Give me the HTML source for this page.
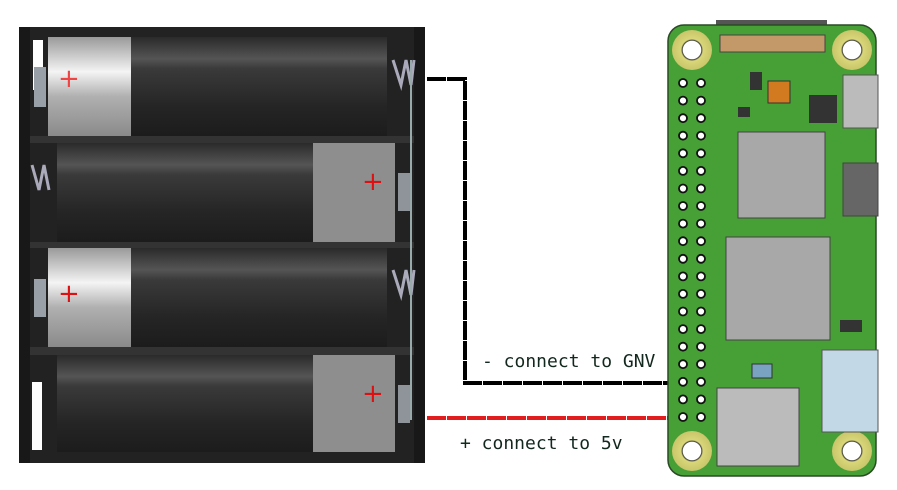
<!DOCTYPE html>
<html><head><style>
html,body{margin:0;padding:0;background:#fff;width:897px;height:490px;overflow:hidden}
svg{display:block}
text{font-family:"DejaVu Sans Mono","Liberation Mono",monospace;font-size:18px;fill:#12281e}
</style></head><body>
<svg width="897" height="490" viewBox="0 0 897 490" xmlns="http://www.w3.org/2000/svg">
<defs>
<linearGradient id="body" x1="0" y1="0" x2="0" y2="1">
<stop offset="0" stop-color="#2a2a2a"/><stop offset="0.22" stop-color="#555"/><stop offset="0.32" stop-color="#3a3a3a"/><stop offset="0.7" stop-color="#252525"/><stop offset="1" stop-color="#1c1c1c"/></linearGradient>
<linearGradient id="cap" x1="0" y1="0" x2="0" y2="1">
<stop offset="0" stop-color="#9a9a9a"/><stop offset="0.35" stop-color="#f4f4f4"/><stop offset="0.6" stop-color="#b0b0b0"/><stop offset="1" stop-color="#8a8a8a"/></linearGradient>
<radialGradient id="pad"><stop offset="0.45" stop-color="#fff"/><stop offset="0.48" stop-color="#333"/><stop offset="0.55" stop-color="#d9d77a"/><stop offset="1" stop-color="#c9c56a"/></radialGradient>
</defs>
<rect x="19" y="27" width="406" height="436" fill="#181818"/>
<rect x="30" y="27" width="384" height="436" fill="#222"/>
<rect x="30" y="136" width="384" height="7" fill="#333"/>
<rect x="30" y="242" width="384" height="6" fill="#333"/>
<rect x="30" y="347" width="384" height="8" fill="#333"/>
<!-- row1 -->
<rect x="48" y="37" width="83" height="99" fill="url(#cap)"/>
<rect x="131" y="37" width="256" height="99" fill="url(#body)"/>
<rect x="33" y="40" width="10" height="50" fill="#fff"/>
<rect x="34" y="67" width="12" height="40" fill="#9aa0a8"/>
<text x="58" y="87" style="fill:#e44;font-size:26px;font-family:'DejaVu Sans'">+</text>
<!-- row2 -->
<rect x="57" y="143" width="256" height="99" fill="url(#body)"/>
<rect x="313" y="143" width="82" height="99" fill="#8e8e8e"/>
<rect x="398" y="173" width="12" height="38" fill="#8f949a"/>
<text x="362" y="190" style="fill:#d11;font-size:26px;font-family:'DejaVu Sans'">+</text>
<!-- row3 -->
<rect x="48" y="248" width="83" height="99" fill="url(#cap)"/>
<rect x="131" y="248" width="256" height="99" fill="url(#body)"/>
<rect x="34" y="279" width="12" height="38" fill="#9aa0a8"/>
<text x="58" y="302" style="fill:#d11;font-size:26px;font-family:'DejaVu Sans'">+</text>
<!-- row4 -->
<rect x="57" y="355" width="256" height="97" fill="url(#body)"/>
<rect x="313" y="355" width="82" height="97" fill="#8e8e8e"/>
<rect x="32" y="382" width="10" height="68" fill="#fff"/>
<rect x="398" y="385" width="12" height="38" fill="#8f949a"/>
<text x="362" y="402" style="fill:#d11;font-size:26px;font-family:'DejaVu Sans'">+</text>
<path d="M393 60 l8 25 l5 -25 l5 25 l3 -25" stroke="#aab" stroke-width="3" fill="none"/>
<path d="M32 165 l7 25 l5 -25 l5 25" stroke="#aab" stroke-width="3" fill="none"/>
<path d="M393 270 l8 25 l5 -25 l5 25 l3 -25" stroke="#aab" stroke-width="3" fill="none"/>
<line x1="411" y1="60" x2="411" y2="420" stroke="#9aa" stroke-width="2"/>
<!-- wires -->
<path d="M427 79 H465 V383 H682" stroke="#000" stroke-width="4" fill="none" stroke-dasharray="19 1"/>
<line x1="427" y1="418" x2="682" y2="418" stroke="#e21d1d" stroke-width="4" stroke-dasharray="19 1"/>
<text x="482" y="367">- connect to GNV</text>
<text x="460" y="449">+ connect to 5v</text>
<!-- pi board -->
<rect x="716" y="20" width="111" height="12" fill="#555"/>
<rect x="668" y="25" width="208" height="451" rx="16" fill="#46a035" stroke="#2a4a25" stroke-width="1.5"/>
<rect x="720" y="35" width="105" height="17" fill="#c4996a" stroke="#444"/>
<circle cx="692" cy="50" r="20" fill="url(#pad)"/>
<circle cx="852" cy="50" r="20" fill="url(#pad)"/>
<circle cx="692" cy="451" r="20" fill="url(#pad)"/>
<circle cx="852" cy="451" r="20" fill="url(#pad)"/>
<g fill="#fff" stroke="#111" stroke-width="1.8">
<circle cx="683" cy="83" r="4"/><circle cx="701" cy="83" r="4"/>
<circle cx="683" cy="100.6" r="4"/><circle cx="701" cy="100.6" r="4"/>
<circle cx="683" cy="118.2" r="4"/><circle cx="701" cy="118.2" r="4"/>
<circle cx="683" cy="135.7" r="4"/><circle cx="701" cy="135.7" r="4"/>
<circle cx="683" cy="153.3" r="4"/><circle cx="701" cy="153.3" r="4"/>
<circle cx="683" cy="170.9" r="4"/><circle cx="701" cy="170.9" r="4"/>
<circle cx="683" cy="188.5" r="4"/><circle cx="701" cy="188.5" r="4"/>
<circle cx="683" cy="206" r="4"/><circle cx="701" cy="206" r="4"/>
<circle cx="683" cy="223.6" r="4"/><circle cx="701" cy="223.6" r="4"/>
<circle cx="683" cy="241.2" r="4"/><circle cx="701" cy="241.2" r="4"/>
<circle cx="683" cy="258.8" r="4"/><circle cx="701" cy="258.8" r="4"/>
<circle cx="683" cy="276.4" r="4"/><circle cx="701" cy="276.4" r="4"/>
<circle cx="683" cy="293.9" r="4"/><circle cx="701" cy="293.9" r="4"/>
<circle cx="683" cy="311.5" r="4"/><circle cx="701" cy="311.5" r="4"/>
<circle cx="683" cy="329.1" r="4"/><circle cx="701" cy="329.1" r="4"/>
<circle cx="683" cy="346.7" r="4"/><circle cx="701" cy="346.7" r="4"/>
<circle cx="683" cy="364.2" r="4"/><circle cx="701" cy="364.2" r="4"/>
<circle cx="683" cy="381.8" r="4"/><circle cx="701" cy="381.8" r="4"/>
<circle cx="683" cy="399.4" r="4"/><circle cx="701" cy="399.4" r="4"/>
<circle cx="683" cy="417" r="4"/><circle cx="701" cy="417" r="4"/>
</g>
<rect x="738" y="132" width="87" height="86" fill="#a8a8a8" stroke="#444"/>
<rect x="726" y="237" width="104" height="103" fill="#a8a8a8" stroke="#444"/>
<rect x="809" y="95" width="28" height="28" fill="#333"/>
<rect x="768" y="81" width="22" height="22" fill="#d27a20" stroke="#333"/>
<rect x="750" y="72" width="12" height="18" fill="#333"/>
<rect x="738" y="107" width="12" height="10" fill="#333"/>
<rect x="843" y="75" width="35" height="53" fill="#bbb" stroke="#555"/>
<rect x="843" y="163" width="35" height="53" fill="#666" stroke="#444"/>
<rect x="717" y="388" width="82" height="78" fill="#bbb" stroke="#444"/>
<rect x="822" y="350" width="56" height="82" fill="#c3d8e6" stroke="#555"/>
<rect x="752" y="364" width="20" height="14" fill="#7aa3c2" stroke="#333"/>
<rect x="840" y="320" width="22" height="12" fill="#333"/>
</svg>
</body></html>
